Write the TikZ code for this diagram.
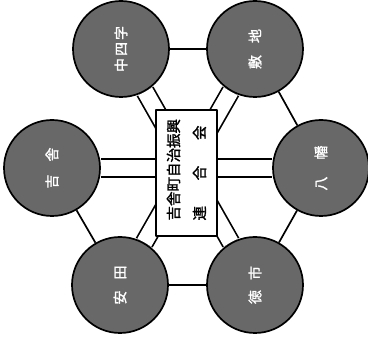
\documentclass[tikz,border=0pt]{standalone}
\usepackage{fontspec}
\newfontfamily\jp{Noto Sans CJK JP}[FakeBold=1.6]
\usetikzlibrary{backgrounds}
\definecolor{hubgray}{RGB}{104,104,104}
\begin{document}
\begin{tikzpicture}[x=1pt,y=1pt,line join=round,line cap=round,font=\jp,
	hub/.style={circle,draw=black,line width=1.7pt,fill=hubgray,minimum size=96pt,inner sep=0pt,text=white,font=\jp\fontsize{14}{14}\selectfont},
	core/.style={rectangle,draw=black,line width=1.7pt,fill=white,rotate=90,minimum width=126pt,minimum height=61pt,inner sep=0pt,align=center,font=\jp\fontsize{14.5}{26}\selectfont},
	edge/.style={draw=black,line width=1.7pt},
	link/.style={draw=black,line width=1.7pt,double=white,double distance=16pt}]
	\useasboundingbox (0,0) rectangle (368,340);
	% districts
	\node[hub] (tl) at (121,291) {\rotatebox{90}{中\hspace{2pt}四\hspace{2pt}字}};
	\node[hub] (tr) at (255,291) {\rotatebox{90}{敷\hspace{12pt}地}};
	\node[hub] (l) at (52,172) {\rotatebox{90}{吉\hspace{13pt}舎}};
	\node[hub] (r) at (321,172) {\rotatebox{90}{八\hspace{17pt}幡}};
	\node[hub] (bl) at (120,55) {\rotatebox{90}{安\hspace{11pt}田}};
	\node[hub] (br) at (255,55) {\rotatebox{90}{徳\hspace{10pt}市}};
	% federation
	\node[core] (fed) at (186.5,167) {\makebox[95pt][s]{吉舎町自治振興}\\\makebox[95pt]{連\hfill 合\hfill 会}};
	\begin{scope}[on background layer]
		\draw[edge] (tl) -- (tr) -- (r) -- (br) -- (bl) -- (l) -- cycle;
		\draw[link] (l) -- (r);
		\draw[link] (tl) -- (br);
		\draw[link] (tr) -- (bl);
	\end{scope}
\end{tikzpicture}
\end{document}
